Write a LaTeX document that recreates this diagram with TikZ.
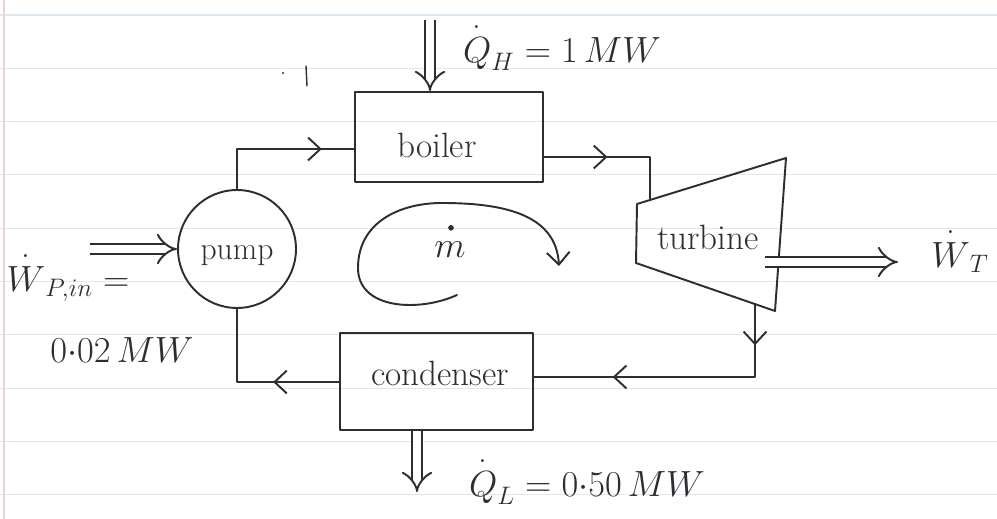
\documentclass[tikz,border=0pt]{standalone}
\usepackage{amsmath}
\usepackage{fontspec}
\usetikzlibrary{arrows.meta,decorations.markings,calc}
\definecolor{ink}{RGB}{45,45,50}
\definecolor{rulecol}{RGB}{222,232,240}
\definecolor{margincol}{RGB}{242,205,222}
\newcommand{\rate}[2][1pt]{\overset{\raisebox{#1}{.}}{#2}}
\tikzset{
  barb/.tip={Straight Barb[length=7pt,width=13pt,line width=1.1pt]},
  inkline/.style={draw=ink, line width=1.1pt, line cap=round, line join=round},
  unitbox/.style={inkline, rectangle, inner sep=0pt},
  lbl/.style={text=ink, font=\fontsize{20}{24}\selectfont, inner sep=0pt},
  flow/.style={inkline, postaction={decorate},
    decoration={markings, mark=at position #1 with {\arrow{barb}}}},
  flowtwo/.style 2 args={inkline, postaction={decorate},
    decoration={markings, mark=at position #1 with {\arrow{barb}},
                          mark=at position #2 with {\arrow{barb}}}},
  energy/.style={draw=ink, line width=1.1pt, double=white, double distance=5pt, -{Implies}},
}
\begin{document}
\begin{tikzpicture}[x=0.02cm, y=-0.02cm]
% paper
\fill[white] (0,0) rectangle (997,519);
\useasboundingbox (0,0) rectangle (997,519);
\foreach \k in {0,...,9} {
  \draw[rulecol, line width=0.6pt] (0,{15+53.3*\k}) -- (997,{15+53.3*\k});
}
\draw[margincol, line width=1pt] (4,0) -- (4,519);

% components
\node[unitbox, minimum width=3.76cm, minimum height=1.8cm] (boiler) at (449,137) {};
\node[lbl] (boilertext) at (437,145) {boiler};
\node[unitbox, minimum width=3.86cm, minimum height=1.94cm] (condenser) at (436.5,381.5) {};
\node[lbl] (condensertext) at (440,373) {condenser};
\node[inkline, circle, minimum size=2.36cm, inner sep=0pt] (pump) at (237,249) {};
\node[lbl, font=\fontsize{18}{22}\selectfont] (pumptext) at (237,256) {pump};

\coordinate (t1) at (637,204);
\coordinate (t2) at (786,158);
\coordinate (t3) at (775,311);
\coordinate (t4) at (636,263);
\draw[inkline] (t1) -- (t2) -- (t3) -- (t4) -- cycle;
\node[lbl] (turbinetext) at (708,237) {turbine};

% connection points
\coordinate (bin) at (355,149);
\coordinate (bout) at (543,157);
\coordinate (tin) at (650,200);
\coordinate (tout) at (755,304);
\coordinate (cin) at (533,377);
\coordinate (cout) at (340,382);

% working fluid loop
\draw[flow=0.79] (pump.north) |- (bin);
\draw[flow=0.43] (bout) -| (tin);
\draw[flowtwo={0.14}{0.73}] (tout) |- (cin);
\draw[flow=0.38] (cout) -| (pump.south);

% energy flows
\coordinate (wpstart) at (90,249);
\draw[energy] (wpstart) -- (pump.west);
\coordinate (qhstart) at (430,20);
\draw[energy] (qhstart) -- (qhstart |- boiler.north);
\coordinate (wtstart) at (765,262);
\coordinate (wtend) at (898,262);
\draw[energy] (wtstart) -- (wtend);
\coordinate (qlend) at (417,492);
\draw[energy] (qlend |- condenser.south) -- (qlend);

% labels
\node[lbl] (qh) at (562,46) {$\rate{Q}_H = 1\,MW$};
\node[lbl] (wt) at (960,250) {$\rate{W}_T$};
\node[lbl] (wp) at (68,276) {$\rate{W}_{P,in} =$};
\node[lbl] (wpv) at (122,350) {$0{\cdot}02\,MW$};
\node[lbl] (ql) at (587,480) {$\rate{Q}_L = 0{\cdot}50\,MW$};
\node[lbl] (mdot) at (450,250) {$m$};
\fill[ink] ($(mdot.north)+(1,-14)$) circle (1.6pt);

% circulation
\draw[inkline, -{barb}] (457,295) .. controls (420,312) and (358,310) .. (358,268)
  .. controls (358,222) and (400,203) .. (442,203)
  .. controls (505,203) and (556,215) .. (559,266);

% stray pen marks
\draw[inkline, line width=0.8pt] (306,66) -- (307,86);
\fill[ink] (283,73) circle (1.2);
\end{tikzpicture}
\end{document}
